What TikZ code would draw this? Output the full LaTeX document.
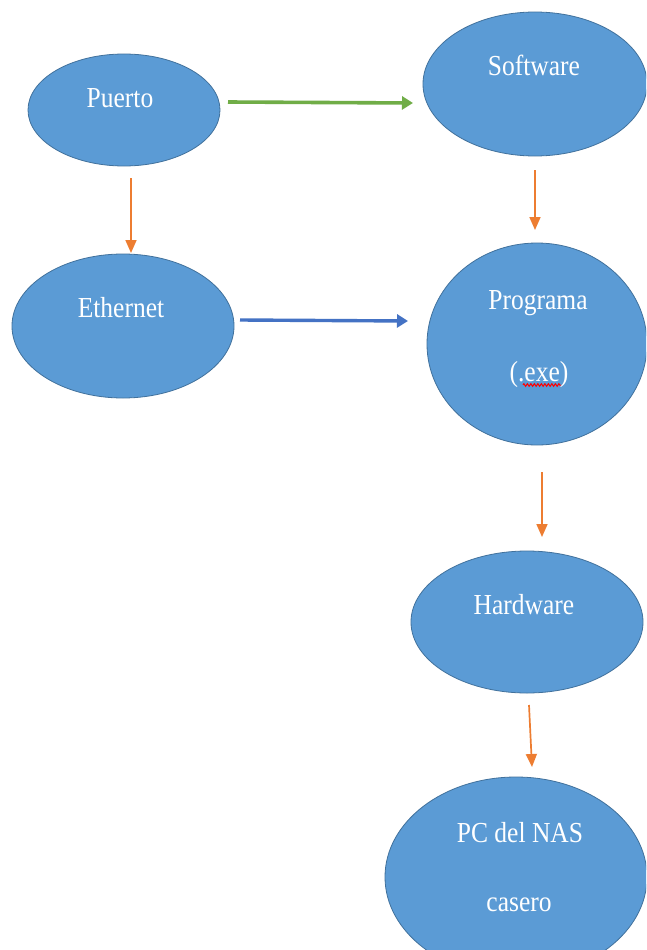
\documentclass[tikz,border=0pt]{standalone}
\usepackage{fontspec}
\usetikzlibrary{arrows.meta,shapes.geometric,decorations.pathmorphing}
\newfontfamily\lblfont[FakeStretch=0.88]{Liberation Serif}
\definecolor{bubblefill}{HTML}{5B9BD5}
\definecolor{bubbleedge}{HTML}{41719C}
\definecolor{linkorange}{HTML}{ED7D31}
\definecolor{linkgreen}{HTML}{70AD47}
\definecolor{linkblue}{HTML}{4472C4}
\tikzset{
  bubble/.style={ellipse, draw=bubbleedge, line width=0.8pt, fill=bubblefill,
                 inner sep=0pt, outer sep=0pt},
  lbl/.style={text=white, font=\lblfont\fontsize{29}{32}\selectfont, inner sep=0pt},
  orangelink/.style={draw=linkorange, line width=1.7pt,
                     -{Triangle[width=11pt,length=13pt]}},
  greenlink/.style={draw=linkgreen, line width=3.6pt,
                    -{Triangle[width=13pt,length=11pt]}},
  bluelink/.style={draw=linkblue, line width=3.4pt,
                   -{Triangle[width=13pt,length=11pt]}},
  spellmark/.style={draw=red, line width=1pt,
                    decorate, decoration={zigzag, amplitude=1.3pt, segment length=3.5pt}}
}
\begin{document}
\begin{tikzpicture}[x=1pt,y=-1pt]
  \useasboundingbox (0,0) rectangle (646,950);
  \clip (0,0) rectangle (646,950);
  \fill[white] (0,0) rectangle (646,950);

  % ellipses
  \node[bubble, minimum width=192pt, minimum height=112pt] (puerto)   at (124,110) {};
  \node[bubble, minimum width=224pt, minimum height=144pt] (software) at (535,84)  {};
  \node[bubble, minimum width=222pt, minimum height=144pt] (ethernet) at (123,326) {};
  \node[bubble, minimum width=220pt, minimum height=202pt] (programa) at (537,344) {};
  \node[bubble, minimum width=232pt, minimum height=142pt] (hardware) at (527,622) {};
  \node[bubble, minimum width=262pt, minimum height=200pt] (pcnas)    at (516,877) {};

  % labels
  \node[lbl] (puertotxt)   at (120,98)  {Puerto};
  \node[lbl] (softwaretxt) at (534,65)  {Software};
  \node[lbl] (ethernettxt) at (121,308) {Ethernet};
  \node[lbl] (programatxt) at (538,303) {Programa};
  \node[lbl] (exetxt)      at (539,375) {(.exe)};
  \node[lbl] (hardwaretxt) at (524,605) {Hardware};
  \node[lbl] (pctxt)       at (520,833) {PC del NAS};
  \node[lbl] (caserotxt)   at (519,905) {casero};

  % spelling mark under the extension
  \draw[spellmark] ([shift={(-16,10)}]exetxt.center) -- ([shift={(22,10)}]exetxt.center);

  % connectors
  \draw[greenlink]  ([shift={(8,-8)}]puerto.east)    -- ([shift={(-10,19)}]software.west);
  \draw[bluelink]   ([shift={(6,-6)}]ethernet.east)  -- ([shift={(-19,-23)}]programa.west);
  \draw[orangelink] ([shift={(7,12)}]puerto.south)   -- ([shift={(8,-1)}]ethernet.north);
  \draw[orangelink] ([shift={(0,14)}]software.south) -- ([shift={(-2,-13)}]programa.north);
  \draw[orangelink] ([shift={(5,27)}]programa.south) -- ([shift={(15,-14)}]hardware.north);
  \draw[orangelink] ([shift={(2,12)}]hardware.south) -- ([shift={(16,-10)}]pcnas.north);
\end{tikzpicture}
\end{document}
